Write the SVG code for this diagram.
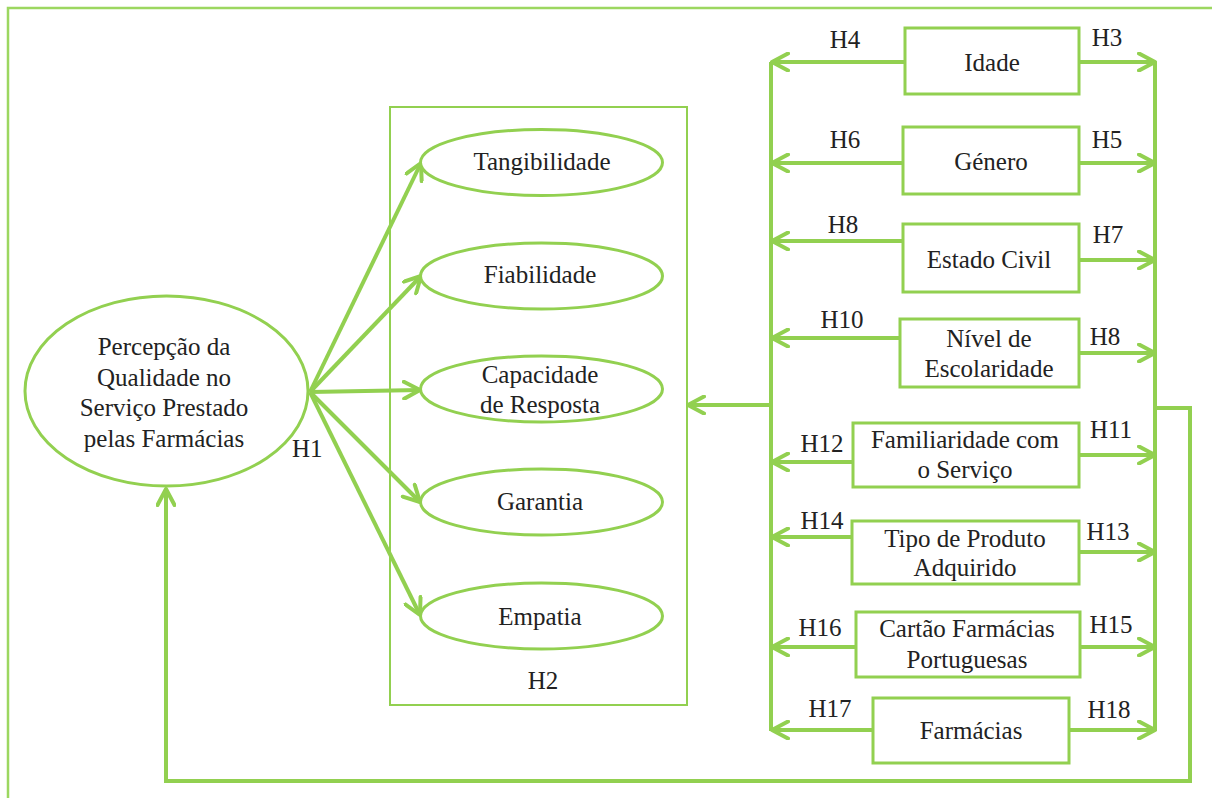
<svg xmlns="http://www.w3.org/2000/svg" width="1212" height="798" viewBox="0 0 1212 798" font-family="'Liberation Serif', 'DejaVu Serif', serif">
<defs>
<style>
.frame{fill:none;stroke:#9cd760;stroke-width:2.5}
.box{fill:#fff;stroke:#92d050;stroke-width:3}
.ell{fill:#fff;stroke:#92d050;stroke-width:3}
.cont{fill:none;stroke:#92d050;stroke-width:2}
.con{fill:none;stroke:#92d050;stroke-width:4;stroke-linejoin:miter}
.arr{marker-end:url(#ah)}
text{font-family:'Liberation Serif','DejaVu Serif',serif;font-size:25px;fill:#222}
.c{text-anchor:middle}
</style>
<marker id="ah" viewBox="0 0 20 20" refX="18" refY="10" markerWidth="20" markerHeight="20" markerUnits="userSpaceOnUse" orient="auto">
<path d="M2,1.5 L18,10 L2,18.5" fill="none" stroke="#92d050" stroke-width="4" stroke-linecap="round" stroke-linejoin="round"/>
</marker>
</defs>
<rect width="1212" height="798" fill="#fff"/>
<path class="frame" d="M1212,8 H8 V798"/>

<g id="dimensions-container">
<rect class="cont" x="390" y="107" width="297" height="598"/>
<text class="c" x="543" y="689">H2</text>
</g>

<g id="connectors">
<path class="con arr" d="M310,392 L421,163"/>
<path class="con arr" d="M310,392 L421,276"/>
<path class="con arr" d="M310,392 L420,390"/>
<path class="con arr" d="M310,392 L420,502"/>
<path class="con arr" d="M310,392 L420,615"/>
<path class="con" d="M771,62 V731"/>
<path class="con" d="M1155,62 V731"/>
<path class="con arr" d="M771,405 H688"/>
<path class="con arr" d="M1156,408 H1190 V781 H166 V489"/>
<path class="con arr" d="M905,62 H772"/>
<path class="con arr" d="M1079,62 H1155"/>
<path class="con arr" d="M903,163 H772"/>
<path class="con arr" d="M1079,163 H1155"/>
<path class="con arr" d="M903,241 H772"/>
<path class="con arr" d="M1079,260 H1155"/>
<path class="con arr" d="M900,338 H772"/>
<path class="con arr" d="M1079,353 H1155"/>
<path class="con arr" d="M853,462 H772"/>
<path class="con arr" d="M1079,455 H1155"/>
<path class="con arr" d="M852,537 H772"/>
<path class="con arr" d="M1079,552 H1155"/>
<path class="con arr" d="M856,647 H772"/>
<path class="con arr" d="M1080,647 H1155"/>
<path class="con arr" d="M873,730 H772"/>
<path class="con arr" d="M1069,730 H1155"/>
<text x="292" y="457">H1</text>
<text class="c" x="845" y="48">H4</text>
<text class="c" x="1107" y="46">H3</text>
<text class="c" x="845" y="148">H6</text>
<text class="c" x="1107" y="148">H5</text>
<text class="c" x="843" y="233">H8</text>
<text class="c" x="1108" y="243">H7</text>
<text class="c" x="842" y="328">H10</text>
<text class="c" x="1105" y="345">H8</text>
<text class="c" x="822" y="452">H12</text>
<text class="c" x="1111" y="438">H11</text>
<text class="c" x="822" y="529">H14</text>
<text class="c" x="1108" y="540">H13</text>
<text class="c" x="820" y="636">H16</text>
<text class="c" x="1111" y="633">H15</text>
<text class="c" x="830" y="717">H17</text>
<text class="c" x="1109" y="718">H18</text>
</g>

<g id="percepcao">
<ellipse class="ell" cx="166.5" cy="391" rx="141.5" ry="95"/>
<text class="c" x="164" y="355">Percepção da</text>
<text class="c" x="164" y="386">Qualidade no</text>
<text class="c" x="164" y="416">Serviço Prestado</text>
<text class="c" x="164" y="447">pelas Farmácias</text>
</g>

<g id="tangibilidade">
<ellipse class="ell" cx="541.5" cy="162.5" rx="121" ry="33"/>
<text class="c" x="542" y="170">Tangibilidade</text>
</g>
<g id="fiabilidade">
<ellipse class="ell" cx="541.5" cy="276" rx="121" ry="33"/>
<text class="c" x="540" y="283">Fiabilidade</text>
</g>
<g id="capacidade">
<ellipse class="ell" cx="541.5" cy="389" rx="121" ry="33"/>
<text class="c" x="540" y="383">Capacidade</text>
<text class="c" x="540" y="413">de Resposta</text>
</g>
<g id="garantia">
<ellipse class="ell" cx="541.5" cy="502" rx="121" ry="33"/>
<text class="c" x="540" y="510">Garantia</text>
</g>
<g id="empatia">
<ellipse class="ell" cx="541.5" cy="616" rx="121" ry="33"/>
<text class="c" x="540" y="625">Empatia</text>
</g>

<g id="idade">
<rect class="box" x="905" y="28" width="174" height="66"/>
<text class="c" x="992" y="71">Idade</text>
</g>
<g id="genero">
<rect class="box" x="903" y="127" width="176" height="67"/>
<text class="c" x="991" y="170">Género</text>
</g>
<g id="estado-civil">
<rect class="box" x="903" y="224" width="176" height="68"/>
<text class="c" x="989" y="268">Estado Civil</text>
</g>
<g id="escolaridade">
<rect class="box" x="900" y="319" width="179" height="68"/>
<text class="c" x="989" y="347">Nível de</text>
<text class="c" x="989" y="377">Escolaridade</text>
</g>
<g id="familiaridade">
<rect class="box" x="853" y="423" width="226" height="64"/>
<text class="c" x="965" y="448">Familiaridade com</text>
<text class="c" x="965" y="478">o Serviço</text>
</g>
<g id="tipo-produto">
<rect class="box" x="852" y="521" width="227" height="63"/>
<text class="c" x="965" y="547">Tipo de Produto</text>
<text class="c" x="965" y="576">Adquirido</text>
</g>
<g id="cartao">
<rect class="box" x="856" y="612" width="224" height="65"/>
<text class="c" x="967" y="637">Cartão Farmácias</text>
<text class="c" x="967" y="668">Portuguesas</text>
</g>
<g id="farmacias">
<rect class="box" x="873" y="698" width="196" height="65"/>
<text class="c" x="971" y="739">Farmácias</text>
</g>
</svg>
